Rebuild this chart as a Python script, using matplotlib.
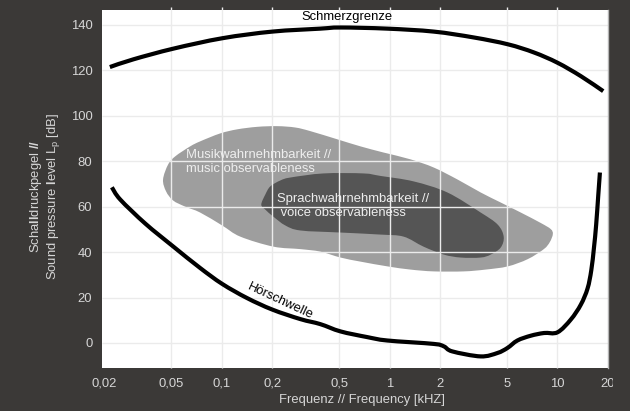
import matplotlib
matplotlib.use("Agg")
import numpy as np
import matplotlib.pyplot as plt
from matplotlib.path import Path
from matplotlib.patches import PathPatch
from matplotlib.transforms import Bbox, TransformedBbox

plt.rcParams["font.family"] = ["Liberation Sans", "DejaVu Sans"]
plt.rcParams["mathtext.fontset"] = "custom"
plt.rcParams["mathtext.rm"] = "Liberation Sans"
plt.rcParams["mathtext.bf"] = "Liberation Sans:bold"
plt.rcParams["mathtext.it"] = "Liberation Sans:italic"

BG = "#3b3937"
TXT = "#d6d6d6"
GRID = "#ebebeb"

# pain threshold (Schmerzgrenze)
pain_f = [0.0215, 0.0297, 0.0514, 0.101, 0.2, 0.386, 0.509, 0.967, 1.83, 3.18,
          5.07, 7.25, 10.0, 13.78, 18.73]
pain_db = [121.4, 124.8, 129.5, 134.1, 137.0, 138.3, 138.8, 138.3, 137.0, 134.4,
           131.4, 127.8, 123.3, 117.4, 110.8]

# hearing threshold (Hoerschwelle)
hear_f = [0.0221, 0.0248, 0.035, 0.0512, 0.0742, 0.1004, 0.141, 0.1998, 0.294, 0.386,
          0.509, 0.734, 0.967, 1.828, 2.105, 2.362, 3.485, 4.385, 5.03, 5.77,
          6.93, 8.32, 10.0, 12.0, 13.78, 15.11, 15.9, 16.5, 17.0, 17.5, 17.9]
hear_db = [68.5, 63.1, 52.5, 42.5, 33.0, 26.0, 19.8, 14.7, 10.5, 8.3,
           5.1, 2.6, 1.1, -0.4, -1.5, -3.7, -5.9, -4.4, -2.2, 1.1,
           3.2, 4.4, 4.7, 10.3, 16.9, 24.0, 32.0, 42.0, 52.0, 65.0, 75.0]

# music area outline
music_f = [0.0446, 0.0478, 0.0527, 0.0647, 0.0742, 0.0977, 0.1235, 0.1625, 0.214,
           0.274, 0.337, 0.488, 0.670, 0.919, 1.33, 1.83, 2.54, 3.49, 4.59, 6.04,
           7.95, 9.12, 9.38, 9.0, 8.29, 6.65, 5.05, 3.73, 2.76, 1.83, 1.33, 0.971,
           0.670, 0.509, 0.386, 0.294, 0.2025, 0.1287, 0.1004, 0.0742, 0.0604,
           0.0512, 0.0465]
music_db = [71.9, 78.5, 82.1, 86.5, 88.7, 92.2, 94.0, 95.1, 95.4,
            94.8, 93.2, 89.6, 86.5, 83.8, 80.8, 77.2, 71.9, 66.2, 61.8, 57.4,
            52.8, 50.1, 47.9, 44.4, 41.3, 36.9, 33.7, 32.3, 31.5, 31.5, 32.3, 33.7,
            35.8, 37.6, 40.2, 41.3, 42.4, 46.8, 51.7, 57.4, 60.0,
            62.7, 66.7]

# speech area outline
voice_f = [0.1717, 0.1814, 0.1943, 0.223, 0.256, 0.403, 0.698, 0.881, 1.388, 2.21,
           3.485, 4.40, 4.78, 4.59, 4.0, 3.485, 2.65, 2.10, 1.59, 1.21, 0.881,
           0.509, 0.294, 0.239, 0.2025, 0.1814]
voice_db = [60.9, 65.3, 68.9, 71.5, 72.8, 74.6, 74.6, 73.5, 71.1, 66.2,
            57.4, 52.1, 46.8, 42.0, 38.9, 37.6, 37.6, 38.9, 42.4, 46.8, 47.7,
            48.6, 49.5, 51.7, 55.6, 58.7]

x_ticks = [0.02, 0.05, 0.1, 0.2, 0.5, 1, 2, 5, 10, 20]
x_labels = ["0,02", "0,05", "0,1", "0,2", "0,5", "1", "2", "5", "10", "20"]
y_ticks = [0, 20, 40, 60, 80, 100, 120, 140]


def smooth_path(f, db, closed=False):
    """Catmull-Rom through the points, drawn as bezier curves (log x)."""
    u = np.log10(f)
    v = np.asarray(db, dtype=float)
    n = len(u)
    pts = np.column_stack([u, v])
    verts = [pts[0]]
    codes = [Path.MOVETO]
    last = n if closed else n - 1
    for i in range(last):
        p0 = pts[(i - 1) % n] if (closed or i > 0) else pts[i]
        p1 = pts[i]
        p2 = pts[(i + 1) % n]
        p3 = pts[(i + 2) % n] if (closed or i + 2 < n) else p2
        c1 = p1 + (p2 - p0) / 6
        c2 = p2 - (p3 - p1) / 6
        verts += [c1, c2, p2]
        codes += [Path.CURVE4] * 3
    if closed:
        verts.append(pts[0])
        codes.append(Path.CLOSEPOLY)
    verts = np.array(verts)
    verts[:, 0] = 10 ** verts[:, 0]
    return Path(verts, codes)


fig = plt.figure(figsize=(6.3, 4.11), dpi=100, facecolor=BG)
ax = fig.add_axes([102 / 630, 43 / 411, 506 / 630, 358 / 411])
ax.set_facecolor("white")
ax.set_xscale("log")
ax.set_xlim(0.0193, 20)
ax.set_ylim(-11, 146.5)

ax.add_patch(PathPatch(smooth_path(music_f, music_db, closed=True),
                       facecolor="#9e9e9e", lw=0, zorder=1))
ax.add_patch(PathPatch(smooth_path(voice_f, voice_db, closed=True),
                       facecolor="#555555", lw=0, zorder=1.5))

# grid over the areas
ax.vlines(x_ticks[1:-1], -11, 148, color=GRID, lw=1, zorder=2, clip_on=False)
ax.hlines(y_ticks, 0.0193, 20, color=GRID, lw=1, zorder=2)

for f, db in [(pain_f, pain_db), (hear_f, hear_db)]:
    ax.add_patch(PathPatch(smooth_path(f, db), facecolor="none", edgecolor="black",
                           lw=3, capstyle="butt", joinstyle="round", zorder=3))

ax.text(0.56, 143.3, "Schmerzgrenze", ha="center", va="center", fontsize=9.4, zorder=4)
ax.text(0.222, 18.4, "Hörschwelle", ha="center", va="center", fontsize=9.4,
        rotation=-25, zorder=4)
ax.text(0.0612, 79.6, "Musikwahrnehmbarkeit //\nmusic observableness", ha="left",
        va="center", fontsize=9.4, color="#eeeeee", zorder=4)
ax.text(0.2125, 60.1, "Sprachwahrnehmbarkeit //\n voice observableness", ha="left",
        va="center", fontsize=9.4, color="#eeeeee", zorder=4)

ax.set_xticks(x_ticks, x_labels)
ax.minorticks_off()
ax.set_yticks(y_ticks)
ax.tick_params(length=0, labelsize=9.4, labelcolor=TXT)
ax.tick_params(axis="x", pad=7)
ax.tick_params(axis="y", pad=7)
for side in ["left", "top", "bottom"]:
    ax.spines[side].set_visible(False)
ax.spines["right"].set_color("#b5b5b5")
ax.spines["right"].set_linewidth(1)

# last tick label is cut at the image border in the original
lbl = ax.get_xticklabels()[-1]
lbl.set_clip_box(TransformedBbox(Bbox.from_extents(0, 0, 613 / 630, 1), fig.transFigure))
lbl.set_clip_on(True)

fig.text(362 / 630, 1 - 400 / 411, "Frequenz // Frequency [kHZ]", ha="center",
         va="center", fontsize=9.4, color=TXT)
fig.text(45 / 630, 1 - 196 / 411,
         "Scha$\\mathbf{ll}$druckpegel $\\mathbf{//}$\nSound pressure $\\mathbf{l}$evel L$_\\mathrm{p}$ [dB]",
         ha="center", va="center", rotation=90, fontsize=9.4, color=TXT,
         multialignment="center", linespacing=1.15)

fig.savefig("out.png", dpi=100, facecolor=BG)
